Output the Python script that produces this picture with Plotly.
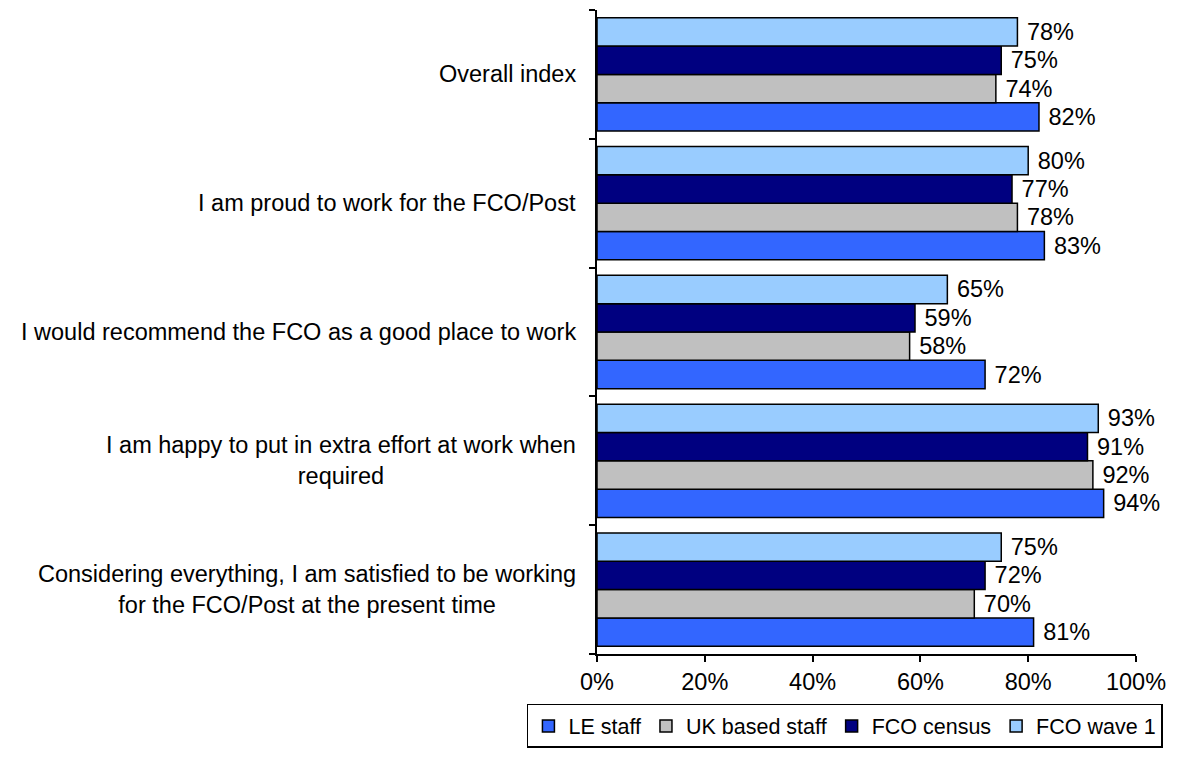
import plotly.graph_objects as go

categories = [
    "Overall index",
    "I am proud to work for the FCO/Post",
    "I would recommend the FCO as a good place to work",
    "I am happy to put in extra effort at work when<br>required",
    "Considering everything, I am satisfied to be working<br>for the FCO/Post at the present time",
]
series_names = ["LE staff", "UK based staff", "FCO census", "FCO wave 1"]
le_staff = [82, 83, 72, 94, 81]
uk_based = [74, 78, 58, 92, 70]
fco_census = [75, 77, 59, 91, 72]
fco_wave1 = [78, 80, 65, 93, 75]
colors = ["#3366FF", "#C0C0C0", "#000080", "#99CCFF"]
x_ticks = [0, 20, 40, 60, 80, 100]

values = [le_staff, uk_based, fco_census, fco_wave1]
cat_order = categories[::-1]  # bottom to top

FONT = "Liberation Sans, Arial, sans-serif"
FS = 23.5
fig = go.Figure()
for name, vals, col in zip(series_names, values, colors):
    fig.add_trace(go.Bar(
        name=name, y=categories, x=vals, orientation="h",
        marker=dict(color=col, line=dict(color="black", width=1.5)),
        text=[f" {v}%" for v in vals], textposition="outside",
        textfont=dict(size=FS, color="black", family=FONT),
        constraintext="none", cliponaxis=False,
    ))

for c in categories:
    fig.add_annotation(
        x=-0.035, xref="paper", y=c, yref="y", text=c, showarrow=False,
        xanchor="right", align="center",
        font=dict(size=FS, color="black", family=FONT),
    )

fig.update_layout(
    barmode="group", bargap=0.12, bargroupgap=0,
    width=1181, height=765,
    margin=dict(l=597, r=45, t=10, b=111),
    plot_bgcolor="white", paper_bgcolor="white",
    font=dict(family=FONT, size=FS, color="black"),
    showlegend=True,
    legend=dict(
        orientation="h", x=-0.13, xanchor="left", y=-0.0776, yanchor="top",
        bordercolor="black", borderwidth=1.5, font=dict(size=21.5, family=FONT),
        itemwidth=30, tracegroupgap=0,
    ),
)
fig.update_xaxes(
    range=[0, 100], tickvals=x_ticks, ticktext=[f"{t}%" for t in x_ticks],
    showline=True, linecolor="black", linewidth=1.5,
    ticks="outside", ticklen=6, tickcolor="black", tickwidth=1.5,
    showgrid=False, zeroline=False,
    tickfont=dict(size=FS, family=FONT),
)
fig.update_yaxes(
    categoryorder="array", categoryarray=cat_order,
    showticklabels=False, showline=True, linecolor="black", linewidth=1.5,
    ticks="outside", ticklen=6, tickcolor="black", tickwidth=1.5,
    tickson="boundaries", showgrid=False, zeroline=False,
)
fig.write_html("out.html")
